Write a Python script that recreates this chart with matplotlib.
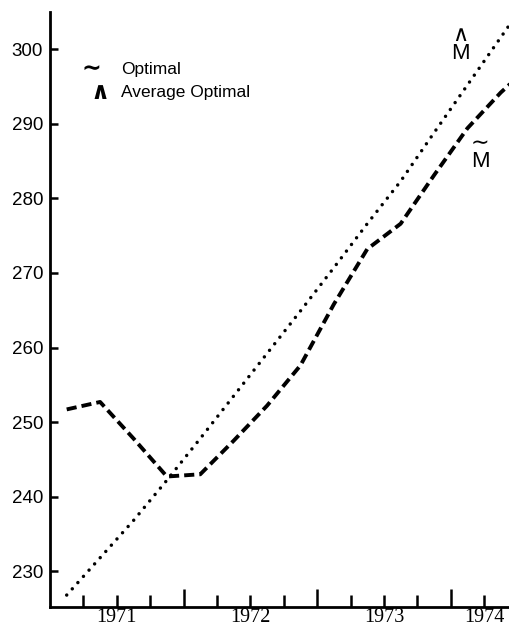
import matplotlib
matplotlib.use('Agg')
import matplotlib.pyplot as plt

# quarterly mid-points
quarters = [1970.625, 1970.875, 1971.125, 1971.375, 1971.625, 1971.875,
            1972.125, 1972.375, 1972.625, 1972.875, 1973.125, 1973.375,
            1973.625, 1973.875, 1974.125]
optimal = [251.7, 252.7, 247.8, 242.7, 243.0, 247.5,
           252.2, 257.6, 265.8, 273.2, 276.6, 283.1,
           289.4, 294.2, 298.3]
avg_optimal = [226.8, 231.8, 236.8, 242.2, 247.8, 253.5,
               259.2, 264.9, 270.7, 276.6, 282.3, 288.8,
               295.2, 301.6, 308.0]

quarter_ticks = [1970.75, 1971.0, 1971.25, 1971.5, 1971.75, 1972.0, 1972.25,
                 1972.5, 1972.75, 1973.0, 1973.25, 1973.5, 1973.75]
tall_ticks = [1971.5, 1972.5, 1973.5]
year_labels = {1971.0: '1971', 1972.0: '1972', 1973.0: '1973', 1973.75: '1974'}
y_ticks = [230, 240, 250, 260, 270, 280, 290, 300]

plt.rcParams['font.family'] = ['Liberation Sans', 'DejaVu Sans']

fig = plt.figure(figsize=(5.1, 6.36), dpi=100)
ax = fig.add_axes([50 / 510, 29 / 636, 460 / 510, 595 / 636])

ax.plot(quarters, optimal, color='black', lw=2.8, linestyle=(0, (2.6, 1.3)),
        dash_capstyle='butt')
ax.plot(quarters, avg_optimal, color='black', lw=2.5, linestyle=(0, (0.01, 2.4)),
        dash_capstyle='round')

ax.set_xlim(1970.5, 1973.944)
ax.set_ylim(225.2, 305)

for s in ['top', 'right']:
    ax.spines[s].set_visible(False)
ax.spines['left'].set_linewidth(2)
ax.spines['bottom'].set_linewidth(2)

ax.set_yticks(y_ticks)
ax.tick_params(axis='y', direction='in', length=6, width=1.8, labelsize=13.5, pad=5)

ax.tick_params(axis='x', direction='in', length=8.6, width=1.8, pad=1)
ax.set_xticks(quarter_ticks)
ax.set_xticklabels([year_labels.get(q, '') for q in quarter_ticks])
for lab in ax.get_xticklabels():
    lab.set_fontfamily('Liberation Serif')
    lab.set_fontsize(14.5)
for q, t in zip(quarter_ticks, ax.xaxis.get_major_ticks()):
    if q in tall_ticks:
        t.tick1line.set_markersize(13)

# legend drawn as text
ax.text(0.091, 0.906, '\u223c', transform=ax.transAxes, fontsize=17,
        fontweight='bold', ha='center', va='center', family='DejaVu Sans')
ax.text(0.109, 0.866, '\u2227', transform=ax.transAxes, fontsize=17,
        fontweight='bold', ha='center', va='center', family='DejaVu Sans')
ax.text(0.154, 0.904, 'Optimal', transform=ax.transAxes, fontsize=12.5,
        ha='left', va='center')
ax.text(0.154, 0.864, 'Average Optimal', transform=ax.transAxes, fontsize=12.5,
        ha='left', va='center')

# curve labels: M with hat / tilde
ax.text(1973.57, 300.6, '\u2227\nM', fontsize=16, ha='center', va='center',
        linespacing=0.8, multialignment='center')
ax.text(1973.72, 286.2, '\u223c\nM', fontsize=16, ha='center', va='center',
        linespacing=0.8, multialignment='center')

fig.savefig('out.png', dpi=100)
